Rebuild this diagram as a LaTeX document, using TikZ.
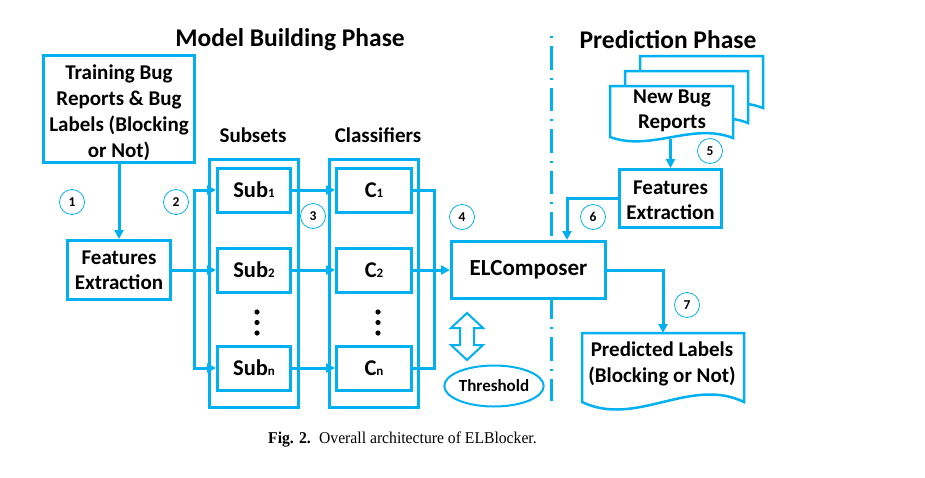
\documentclass[tikz,border=0pt]{standalone}
\usepackage{fontspec}
\setmainfont{Carlito}
\newfontfamily\capfont[FakeStretch=0.95]{Liberation Serif}
\usetikzlibrary{arrows.meta,shapes.geometric,calc}
\definecolor{eblue}{RGB}{0,176,240}
\newcommand\sbs[1]{{\fontsize{13}{13}\selectfont #1}}
\begin{document}
\begin{tikzpicture}[x=1pt,y=-1pt,
  box/.style={draw=eblue, line width=3pt, fill=white, inner sep=0pt, align=center, font=\fontsize{21}{25}\selectfont\bfseries},
  sbox/.style={box, font=\fontsize{22.5}{25}\selectfont\bfseries, minimum height=44pt},
  outerbox/.style={draw=eblue, line width=3pt, inner sep=0pt},
  ln/.style={draw=eblue, line width=3pt, line cap=rect},
  arr/.style={ln, -{Triangle[length=9pt,width=9pt]}, eblue},
  num/.style={circle, draw=eblue, line width=0.8pt, minimum size=25pt, inner sep=0pt, font=\fontsize{13.5}{13.5}\selectfont\bfseries},
  doc/.style={draw=eblue, line width=2.5pt, fill=white, line join=miter},
  ttl/.style={font=\fontsize{25.5}{30}\selectfont\bfseries, inner sep=0pt},
  lbl/.style={font=\fontsize{21}{25}\selectfont\bfseries, align=center, inner sep=0pt},
]
\path[use as bounding box] (0,0) rectangle (925,477);

% phase separator
\draw[eblue, line width=3pt, dash pattern=on 2pt off 8pt on 23.6pt off 8pt] (551,36) -- (551,401);

% titles
\node[ttl] (t1) at (290,39.5) {Model Building Phase};
\node[ttl] (t2) at (668,40) {Prediction Phase};

% left part
\node[box, minimum width=151pt, minimum height=107pt] (train) at (119,109) {};
\node[lbl, font=\fontsize{21}{26}\selectfont\bfseries] (traintxt) at ([yshift=-4pt]train.center) {Training Bug\\Reports \& Bug\\Labels (Blocking\\or Not)};
\node[box, minimum width=103pt, minimum height=59pt] (fe1) at (119,270) {Features\\Extraction};

\node[lbl] (lsub) at (253,135) {Subsets};
\node[lbl] (lcls) at (378,135) {Classifiers};
\node[outerbox, minimum width=89pt, minimum height=248pt] (subsets) at (254,283.5) {};
\node[outerbox, minimum width=89pt, minimum height=248pt] (classifiers) at (374,283.5) {};

\node[sbox, minimum width=73pt] (sub1) at (254,190) {Sub\sbs{1}};
\node[sbox, minimum width=73pt] (sub2) at (254,270) {Sub\sbs{2}};
\node[sbox, minimum width=73pt] (subn) at (254,368) {Sub\sbs{n}};
\node[sbox, minimum width=75pt] (c1) at (374,190) {C\sbs{1}};
\node[sbox, minimum width=75pt] (c2) at (374,270) {C\sbs{2}};
\node[sbox, minimum width=75pt] (cn) at (374,368) {C\sbs{n}};

\foreach \yy in {312,322.5,333} {
  \fill (257,\yy) circle[radius=2.6pt];
  \fill (378,\yy) circle[radius=2.6pt];
}

\node[box, minimum width=154pt, minimum height=57pt, font=\fontsize{23}{27}\selectfont\bfseries] (el) at (528.5,270) {ELComposer};

% threshold
\draw[draw=eblue, line width=2pt, fill=white, line join=miter] (467,313) -- (483,328) -- (474,328) -- (474,345) -- (483,345) -- (467,360) -- (451,345) -- (460,345) -- (460,328) -- (451,328) -- cycle;
\node[ellipse, draw=eblue, line width=2pt, minimum width=95pt, minimum height=41pt, inner sep=0pt, font=\fontsize{17}{17}\selectfont\bfseries] (thr) at (494,386) {Threshold};

% prediction part
\foreach \s in {30,15,0} {
  \draw[doc, shift={(\s,-\s)}] (610,137) -- (610,86) -- (733,86) -- (733,138) .. controls (692,122) and (651,152) .. cycle;
}
\node[lbl] (newbug) at (672,110.5) {New Bug\\Reports};
\coordinate (docbot) at (670.5,140);

\node[box, minimum width=102pt, minimum height=58pt] (fe2) at (670.5,198.5) {};
\node[lbl] (fe2txt) at ([yshift=-1.5pt]fe2.center) {Features\\Extraction};

\draw[doc] (582,402) -- (582,333) -- (744,333) -- (744,402) .. controls (690,376) and (636,428) .. cycle;
\node[lbl, font=\fontsize{21}{26}\selectfont\bfseries] (pred) at (662,363.5) {Predicted Labels\\(Blocking or Not)};
\coordinate (predtop) at (663,333);

% helper coordinates
\coordinate (lbus) at (194,0);
\coordinate (rbus) at (434,0);
\coordinate (c6) at (567,0);

% connectors
\draw[arr] (train.south) -- (fe1.north);
\draw[arr] (subn.west -| lbus) -- (sub1.west -| lbus) -- (sub1.west);
\draw[arr] (subn.west -| lbus) -- (subn.west);
\draw[arr] (fe1.east) -- (sub2.west);
\draw[arr] (sub1.east) -- (c1.west);
\draw[arr] (sub2.east) -- (c2.west);
\draw[arr] (subn.east) -- (cn.west);
\draw[ln] (c1.east) -- (c1.east -| rbus) -- (cn.east -| rbus) -- (cn.east);
\draw[arr] (c2.east) -- (el.west);
\draw[arr] (docbot) -- (fe2.north);
\draw[arr] (fe2.west) -| (c6 |- el.north);
\draw[arr] (el.east) -| (predtop);

% step numbers
\node[num] (n1) at (72,202) {1};
\node[num] (n2) at (176,202) {2};
\node[num] (n3) at (313,216) {3};
\node[num] (n4) at (462,217) {4};
\node[num] (n5) at (710,151) {5};
\node[num] (n6) at (593,217) {6};
\node[num] (n7) at (687,305) {7};

% caption
\node[anchor=west, font=\capfont\fontsize{16.5}{19}\selectfont, inner sep=0pt] (cap) at (268,440) {\textbf{Fig. 2.}\enspace Overall architecture of ELBlocker.};
\end{tikzpicture}
\end{document}
